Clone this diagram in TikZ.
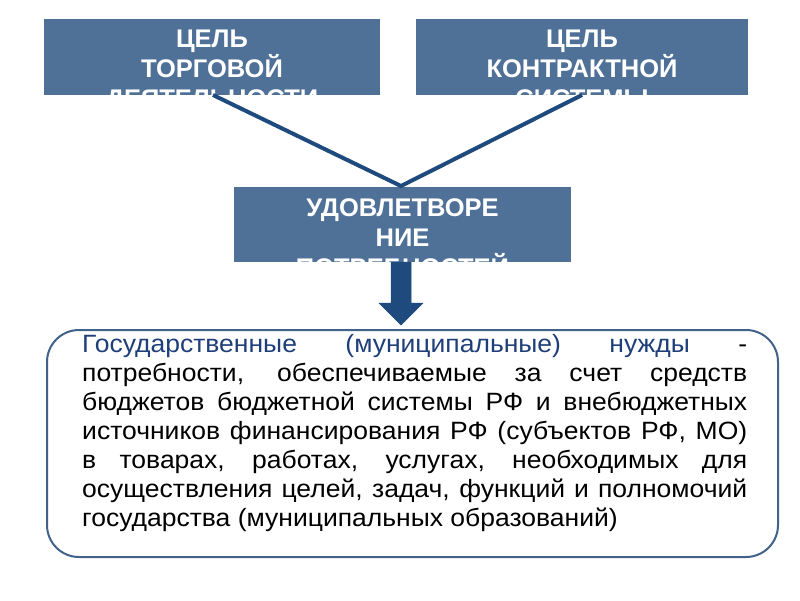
\documentclass[tikz,border=0pt]{standalone}
\usepackage{fontspec}
\setmainfont{Liberation Sans}
\newfontfamily\bodyfont[FakeStretch=1.06]{Liberation Sans}
\definecolor{boxfill}{HTML}{4F7197}
\definecolor{connc}{HTML}{1F4A7E}
\definecolor{framec}{HTML}{41628B}
\definecolor{tblue}{HTML}{1F3F7A}
\tikzset{
  topbox/.style={fill=boxfill, draw=none, inner sep=0pt},
  title/.style={text=white, font=\fontsize{25.5}{30}\selectfont\bfseries, align=center, inner sep=0pt},
  conn/.style={draw=connc, line width=4pt},
  bigarrow/.style={fill=connc, draw=connc, line width=0.5pt},
  frame/.style={draw=framec, line width=2pt, rounded corners=32pt, inner sep=0pt, fill=white},
  bodyline/.style={font=\bodyfont\fontsize{25}{29}\selectfont, inner sep=0pt, anchor=base west}
}
\begin{document}
\begin{tikzpicture}[x=1pt,y=-1pt]
\useasboundingbox[fill=white] (0,0) rectangle (800,600);
% boxes
\node[topbox, minimum width=336pt, minimum height=76pt] (b1) at (212,57) {};
\node[topbox, minimum width=332pt, minimum height=76pt] (b2) at (582,57) {};
\node[topbox, minimum width=337pt, minimum height=75pt] (b3) at (402.5,224.5) {};
\begin{scope}
\clip (b1.south west) rectangle (b1.north east);
\node[title, anchor=base] (t1) at (212,107) {ЦЕЛЬ\\ТОРГОВОЙ\\ДЕЯТЕЛЬНОСТИ};
\end{scope}
\begin{scope}
\clip (b2.south west) rectangle (b2.north east);
\node[title, anchor=base] (t2) at (582,107) {ЦЕЛЬ\\КОНТРАКТНОЙ\\СИСТЕМЫ};
\end{scope}
\begin{scope}
\clip (b3.south west) rectangle (b3.north east);
\node[title, anchor=base] (t3) at (402.5,276) {УДОВЛЕТВОРЕ\\НИЕ\\ПОТРЕБНОСТЕЙ};
\end{scope}
% connectors
\coordinate (s1) at (213,95);
\coordinate (s2) at (582,95);
\coordinate (m) at (401,186);
\draw[conn] (s1) -- (m) -- (s2);
% big arrow
\fill[bigarrow] (b3.south -| 391,0) -- (b3.south -| 411,0) -- (411,303) -- (423,303) -- (401,325) -- (379,303) -- (391,303) -- cycle;
% frame
\node[frame, minimum width=731pt, minimum height=227pt] (body) at (412.5,443.5) {};
% text
\node[bodyline] (l1) at (82,352.7) {\makebox[665pt][s]{\color{tblue}Государственные (муниципальные) нужды \color{black}-}};
\node[bodyline] (l2) at (82,381.5) {\makebox[665pt][s]{потребности, обеспечиваемые за счет средств}};
\node[bodyline] (l3) at (82,410.5) {\makebox[665pt][s]{бюджетов бюджетной системы РФ и внебюджетных}};
\node[bodyline] (l4) at (82,439.5) {\makebox[665pt][s]{источников финансирования РФ (субъектов РФ, МО)}};
\node[bodyline] (l5) at (82,468.5) {\makebox[665pt][s]{в товарах, работах, услугах, необходимых для}};
\node[bodyline] (l6) at (82,497.5) {\makebox[665pt][s]{осуществления целей, задач, функций и полномочий}};
\node[bodyline] (l7) at (82,526.5) {государства (муниципальных образований)};
\end{tikzpicture}
\end{document}
